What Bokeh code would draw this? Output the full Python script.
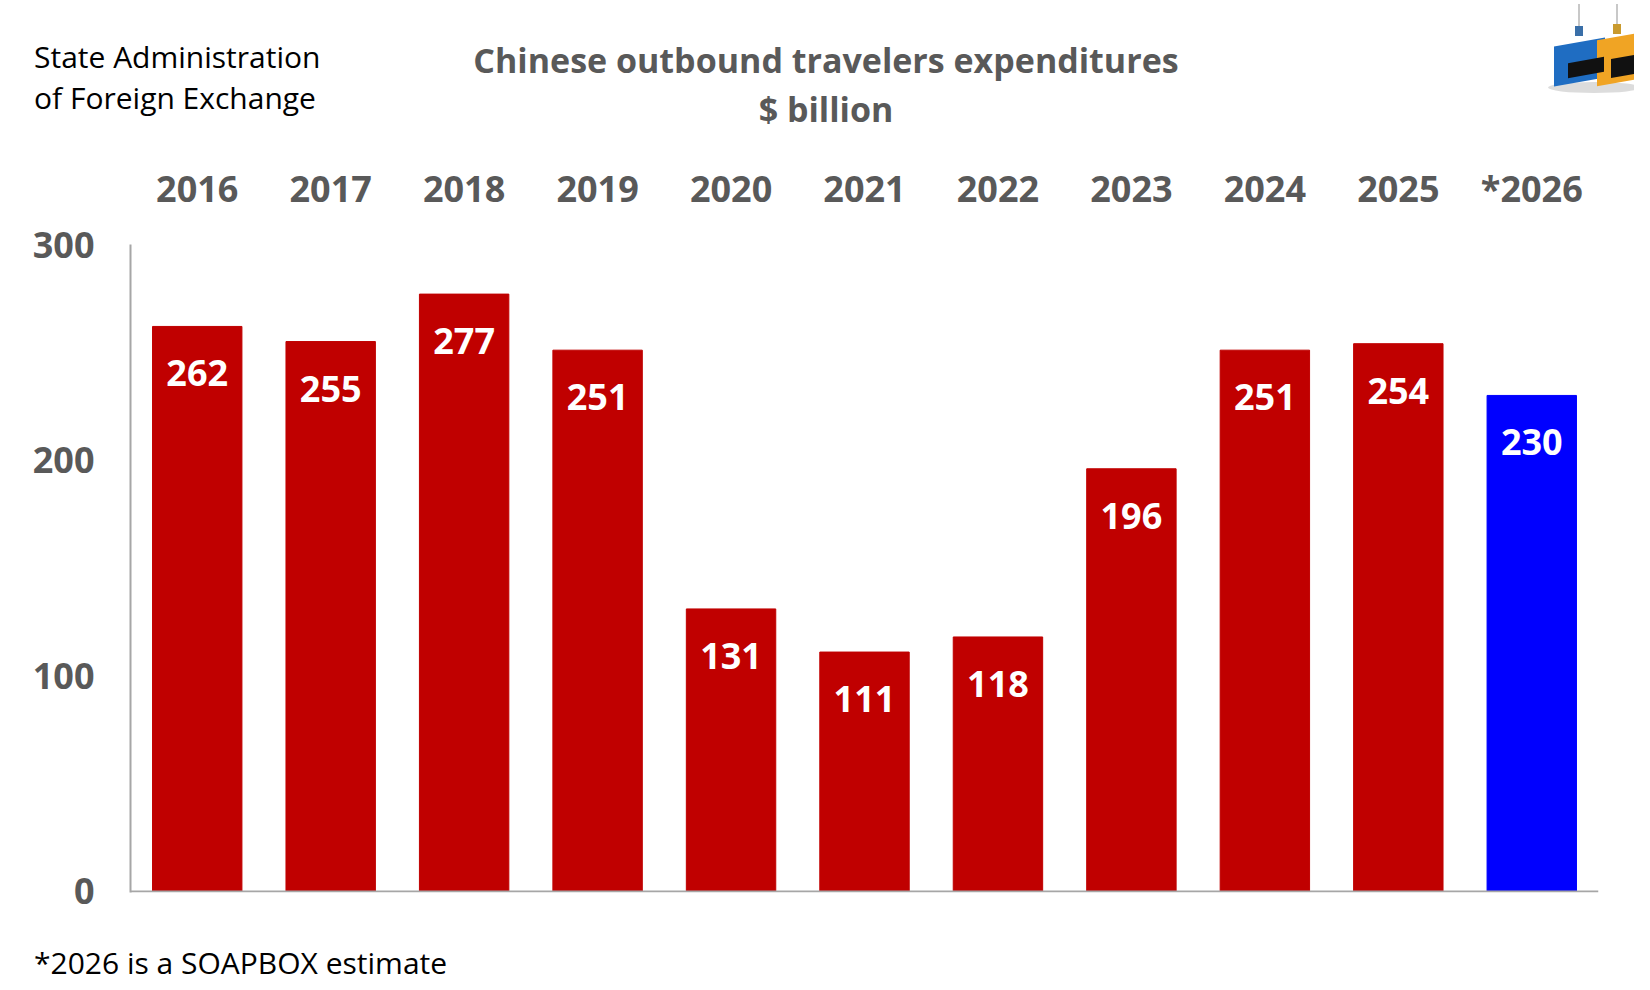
from bokeh.plotting import figure
from bokeh.models import ColumnDataSource, FactorRange, Range1d, Span, Div
from bokeh.layouts import column
from bokeh.core.properties import value
from bokeh.embed import file_html
from bokeh.resources import INLINE

# data
years = ["2016", "2017", "2018", "2019", "2020", "2021", "2022",
         "2023", "2024", "2025", "*2026"]
spend = [262, 255, 277, 251, 131, 111, 118, 196, 251, 254, 230]
bar_colors = ["#C00000"] * 10 + ["#0000FF"]
y_ticks = [0, 100, 200, 300]

source_lines = ["State Administration", "of Foreign Exchange"]
title_lines = ["Chinese outbound travelers expenditures", "$ billion"]
footnote = "*2026 is a SOAPBOX estimate"

FONT = "Open Sans"
GREY = "#595959"
AXIS = "#A6A6A6"

W = 1634
HEAD, FOOT = 136, 50
PH = 930 - HEAD

src = ColumnDataSource(dict(year=years, spend=spend, color=bar_colors,
                            label=[str(v) for v in spend]))

p = figure(width=W, height=PH, x_range=FactorRange(*years), y_range=Range1d(-0.5, 300),
           x_axis_location="above", output_backend="svg", toolbar_location=None,
           min_border_left=130, min_border_right=36,
           min_border_top=108, min_border_bottom=38)
p.outline_line_color = None
p.grid.visible = False

p.vbar(x="year", top="spend", width=0.67, color="color", source=src)
p.text(x="year", y="spend", text="label", source=src, y_offset=47,
       text_align="center", text_baseline="middle", text_color="white",
       text_font=value(FONT), text_font_style="bold", text_font_size="36px")

# baseline at zero
p.add_layout(Span(location=0, dimension="width", line_color=AXIS, line_width=2))

# year labels along the top
xa = p.xaxis[0]
xa.axis_line_color = None
xa.major_tick_line_color = None
xa.major_tick_out = 0
xa.minor_tick_line_color = None
xa.major_label_standoff = 32
xa.major_label_text_font = FONT
xa.major_label_text_font_style = "bold"
xa.major_label_text_font_size = "36px"
xa.major_label_text_color = GREY

ya = p.yaxis[0]
ya.ticker = y_ticks
ya.axis_line_color = AXIS
ya.axis_line_width = 2
ya.major_tick_line_color = None
ya.major_tick_out = 0
ya.minor_tick_line_color = None
ya.major_label_standoff = 36
ya.major_label_text_font = FONT
ya.major_label_text_font_style = "bold"
ya.major_label_text_font_size = "36px"
ya.major_label_text_color = GREY


def txt(s, left, top, size, bold=False, color="black", width=None):
    w = f"width:{width}px;text-align:center;" if width else ""
    return (f'<div style="position:absolute;left:{left}px;top:{top}px;{w}'
            f'font-size:{size}px;line-height:{size}px;white-space:nowrap;'
            f'font-weight:{"bold" if bold else "normal"};color:{color};">{s}</div>')


def rect(left, top, w, h, color, extra=""):
    return (f'<div style="position:absolute;left:{left}px;top:{top}px;width:{w}px;'
            f'height:{h}px;background:{color};{extra}"></div>')


logo = "".join([
    rect(1548, 82, 92, 11, "#DCDCDC", "border-radius:50%;"),
    rect(1578, 4, 2, 28, "#C8C8C8"),
    rect(1616, 4, 2, 26, "#C8C8C8"),
    rect(1575, 26, 8, 10, "#3A6FA8"),
    rect(1613, 24, 8, 10, "#C99A2E"),
    rect(1554, 42, 51, 40, "#1F6DC2", "transform:skewY(-10deg);"),
    rect(1597, 37, 37, 46, "#F0A424", "transform:skewY(-10deg);"),
    rect(1568, 60, 36, 15, "#111111", "transform:skewY(-10deg);"),
    rect(1611, 57, 23, 19, "#111111", "transform:skewY(-10deg);"),
])

header_html = (
    f'<div style="position:relative;width:{W}px;height:{HEAD}px;'
    f'font-family:\'{FONT}\';overflow:hidden;">'
    + txt(source_lines[0], 34, 42, 30)
    + txt(source_lines[1], 34, 83, 30)
    + txt(title_lines[0], 326, 43, 34, bold=True, color=GREY, width=1000)
    + txt(title_lines[1], 326, 92, 34, bold=True, color=GREY, width=1000)
    + logo
    + '</div>'
)
footer_html = (
    f'<div style="position:relative;width:{W}px;height:{FOOT}px;'
    f'font-family:\'{FONT}\';">'
    + txt(footnote, 34, 18, 30)
    + '</div>'
)

header = Div(text=header_html, width=W, height=HEAD, margin=0)
footer = Div(text=footer_html, width=W, height=FOOT, margin=0)

page = column(header, p, footer, spacing=0)
open("out.html", "w").write(file_html(page, INLINE))
